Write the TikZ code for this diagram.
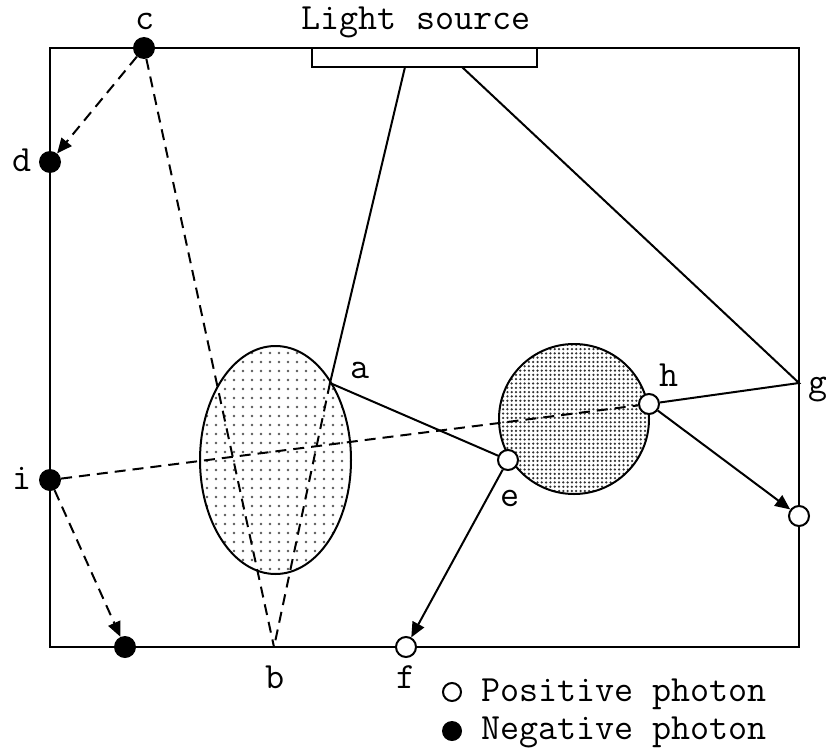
\documentclass[tikz,border=0pt]{standalone}
\usepackage{fontspec}
\usetikzlibrary{arrows.meta,patterns.meta}
\begin{document}
\begin{tikzpicture}[x=1pt,y=-1pt,
  lbl/.style={font=\ttfamily\fontsize{37}{40}\selectfont, inner sep=0pt, anchor=base},
  posph/.style={circle, draw, line width=2pt, fill=white, minimum size=20pt, inner sep=0pt},
  negph/.style={circle, fill=black, minimum size=22pt, inner sep=0pt},
  ray/.style={line width=2pt},
  dray/.style={line width=2pt, dash pattern=on 11pt off 7pt},
  tiptri/.style={-{Triangle[length=15pt,width=13pt]}}]
\useasboundingbox (0,0) rectangle (826,749);
% shapes
\draw[ray] (50,48) rectangle (799,647);
\draw[ray, fill=white] (312,48) rectangle (537,67);
\draw[ray, pattern={Dots[distance=9pt,radius=1.4pt]}, pattern color=black!65] (275.5,460) ellipse [x radius=75.5pt, y radius=114pt];
\draw[ray, pattern={Dots[distance=4.3pt,radius=1.25pt]}, pattern color=black!80] (574,419) circle [radius=75pt];
% points
\coordinate (s1) at (405,67);
\coordinate (s2) at (462,67);
\coordinate (a) at (330,383);
\coordinate (g) at (799,383);
\coordinate (b) at (274,647);
\node[negph] (c) at (144,48) {};
\node[negph] (d) at (50,162) {};
\node[negph] (i) at (50,480) {};
\node[negph] (j) at (125,647) {};
\node[posph] (e) at (508,460) {};
\node[posph] (h) at (649,404) {};
\node[posph] (f) at (406,647) {};
\node[posph] (k) at (799,516) {};
% rays
\draw[ray] (s1) -- (a) -- (e);
\draw[ray,tiptri] (e) -- (f);
\draw[ray] (s2) -- (g) -- (h);
\draw[ray,tiptri] (h) -- (k);
\draw[dray] (i) -- (h);
\draw[dray,tiptri] (i) -- (j);
\draw[dray,tiptri] (c) -- (d);
\draw[dray] (c) -- (b);
\draw[dray] (a) -- (b);
% labels
\node[lbl] (tls) at (416,30) {Light source};
\node[lbl] (tc) at (145,30) {c};
\node[lbl] (td) at (22,171) {d};
\node[lbl] (ti) at (22,489) {i};
\node[lbl] (ta) at (360,378) {a};
\node[lbl] (te) at (510,506) {e};
\node[lbl] (th) at (669,386) {h};
\node[lbl] (tg) at (818,393) {g};
\node[lbl] (tb) at (275,688) {b};
\node[lbl] (tf) at (406,688) {f};
% legend
\node[posph, minimum size=18pt] (lp) at (452,692) {};
\node[negph, minimum size=20pt] (ln) at (452,731) {};
\node[lbl, anchor=base west] (tp) at (481,701) {Positive photon};
\node[lbl, anchor=base west] (tn) at (481,739) {Negative photon};
\end{tikzpicture}
\end{document}
